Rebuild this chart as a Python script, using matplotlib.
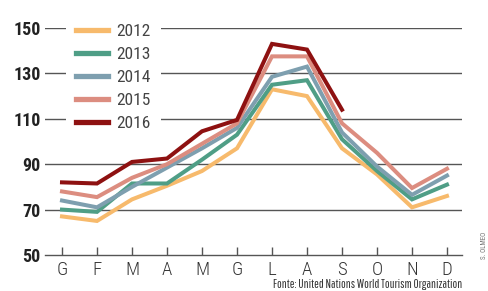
import matplotlib.pyplot as plt
from matplotlib.lines import Line2D

mesi = ["G", "F", "M", "A", "M", "G", "L", "A", "S", "O", "N", "D"]
anni = ["2012", "2013", "2014", "2015", "2016"]
colori = ["#F7BA6C", "#4F9E86", "#7E9FAF", "#DC8D80", "#8E1111"]

v2012 = [67, 65, 74.5, 80.5, 87, 97, 123, 120, 97, 85.5, 71, 76]
v2013 = [70, 69, 81.5, 81.5, 92, 103, 125, 127, 101, 87, 74.5, 81]
v2014 = [74, 71, 80, 88.5, 97, 106, 128.5, 133, 104, 89, 76.5, 85]
v2015 = [78, 75.5, 84, 90, 99, 108, 137.5, 137.5, 108, 95, 79.5, 88]
v2016 = [82, 81.5, 91, 92.5, 104.5, 109.5, 143, 140.5, 114]
serie = [v2012, v2013, v2014, v2015, v2016]

yticks = [50, 70, 90, 110, 130, 150]

cond = ["Roboto Condensed", "DejaVu Sans"]

fig = plt.figure(figsize=(4.88, 2.91), dpi=100)
ax = fig.add_axes([45 / 488, 1 - 255 / 291, 417 / 488, 227 / 291])

# griglia orizzontale
for y in yticks[1:]:
    ax.axhline(y, color="#555555", lw=1.0, zorder=1)

for vals, c in zip(serie, colori):
    ax.plot(range(len(vals)), vals, color=c, lw=2.9, solid_joinstyle="miter", zorder=3)

ax.set_xlim(-17 / 35, 11 + 15 / 35)
ax.set_ylim(50, 150)
ax.set_xticks(range(12))
ax.set_xticklabels(mesi, family=cond, fontsize=13.5, fontweight="light", color="#333333")
ax.set_yticks(yticks)
ax.set_yticklabels([str(y) for y in yticks], family=cond, fontsize=13,
                   fontweight="black", color="#222222")
ax.tick_params(axis="x", direction="in", length=6, width=1, color="#555555", pad=4)
ax.tick_params(axis="y", length=0, pad=3)
for s in ["top", "right", "left"]:
    ax.spines[s].set_visible(False)
ax.spines["bottom"].set_color("#555555")
ax.spines["bottom"].set_linewidth(1.0)

handles = [Line2D([], [], color=c, lw=3.8) for c in colori]
leg = ax.legend(handles, anni, loc="upper left", bbox_to_anchor=(21 / 417, 1.066),
                frameon=True, facecolor="white", edgecolor="none", framealpha=1,
                fancybox=False, handlelength=1.8, handletextpad=0.5,
                labelspacing=0.46, borderpad=0.6, borderaxespad=0,
                prop={"family": cond, "size": 12.5})
for t in leg.get_texts():
    t.set_color("#444444")
leg.set_zorder(5)

fig.text(462 / 488, 1 - 285 / 291, "Fonte: United Nations World Tourism Organization",
         ha="right", va="center", family=["Pathway Gothic One", "DejaVu Sans"],
         fontsize=9, color="#333333")
fig.text(484 / 488, 1 - 245 / 291, "S. OLMEO", rotation=90, ha="center", va="center",
         family=cond, fontsize=5, color="#777777")

fig.savefig("out.png", dpi=100)
